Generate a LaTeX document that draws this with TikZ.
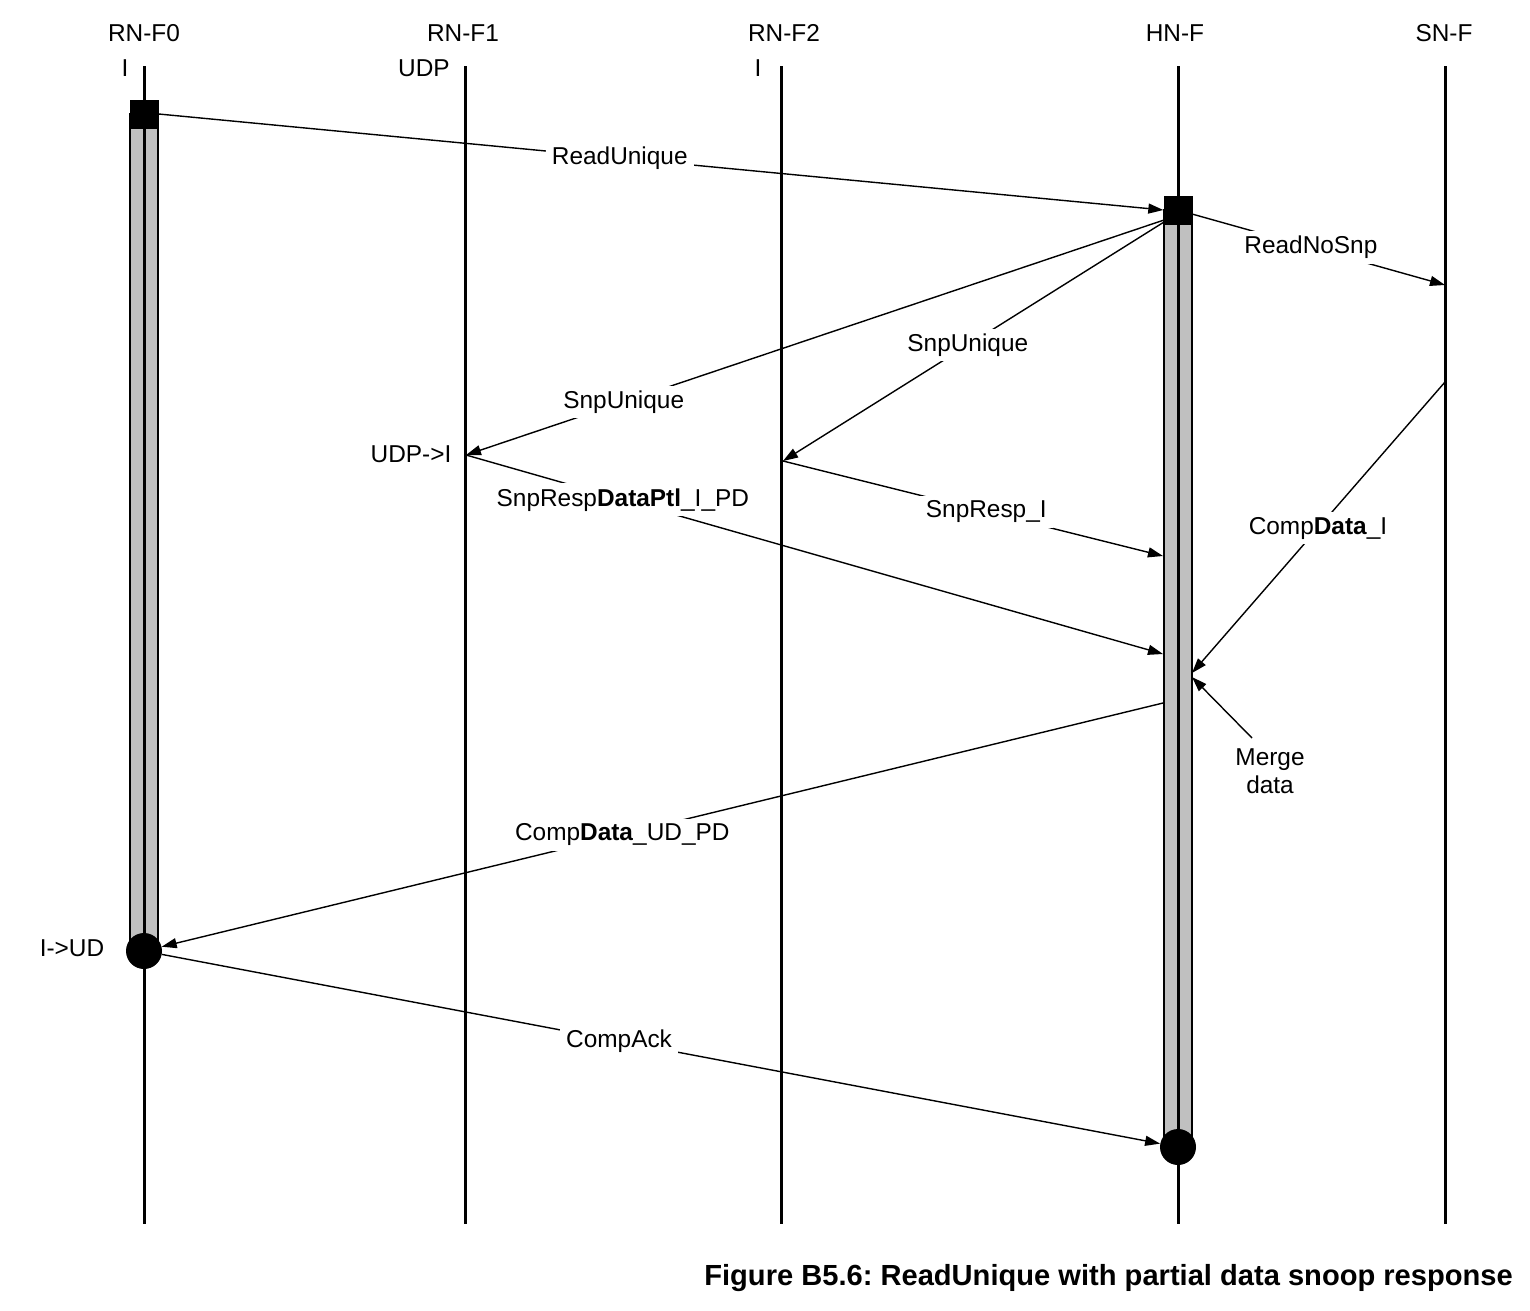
\documentclass[tikz,border=0pt]{standalone}
\usepackage{fontspec}
\setmainfont{Liberation Sans}
\usetikzlibrary{arrows.meta}
\definecolor{bargray}{HTML}{C0C0C0}
\frenchspacing
\begin{document}
\begin{tikzpicture}[x=1pt,y=-1pt,
  every node/.style={font=\fontsize{24.4}{28}\selectfont, inner sep=0pt},
  lifeline/.style={line width=3pt},
  bar/.style={fill=bargray, draw=black, line width=1.5pt},
  sq/.style={fill=black, minimum size=29pt, inner sep=0pt},
  dotnode/.style={circle, fill=black, minimum size=36pt, inner sep=0pt},
  msg/.style={line width=1.4pt, -{Triangle[length=15pt,width=10pt]}},
  lbl/.style={fill=white, inner xsep=6pt, inner ysep=5pt},
  ttl/.style={anchor=center}]
\useasboundingbox (0,0) rectangle (1530,1310);
% activation bars
\draw[bar] (130,114) rectangle (158,951);
\draw[bar] (1164,210) rectangle (1192,1147);
% lifelines
\coordinate (f0t) at (144,66);   \coordinate (f0b) at (144,1224);
\coordinate (f1t) at (465,66);   \coordinate (f1b) at (465,1224);
\coordinate (f2t) at (781,66);   \coordinate (f2b) at (781,1224);
\coordinate (ht) at (1178,66);   \coordinate (hb) at (1178,1224);
\coordinate (st) at (1445,66);   \coordinate (sb) at (1445,1224);
\draw[lifeline] (f0t) -- (f0b);
\draw[lifeline] (f1t) -- (f1b);
\draw[lifeline] (f2t) -- (f2b);
\draw[lifeline] (ht) -- (hb);
\draw[lifeline] (st) -- (sb);
% titles
\node[ttl] (t0) at (144,33) {RN-F0};
\node[ttl] (t1) at (463,33) {RN-F1};
\node[ttl] (t2) at (784,33) {RN-F2};
\node[ttl] (t3) at (1175,33) {HN-F};
\node[ttl] (t4) at (1444,33) {SN-F};
\node (s0) at (125,68) {I};
\node (s1) at (424,68) {UDP};
\node (s2) at (758,68) {I};
% markers
\node[sq] (f0sq) at (144,114) {};
\node[sq] (hsq) at (1178,210) {};
\node[dotnode] (f0dot) at (144,951) {};
\node[dotnode] (hdot) at (1178,1147) {};
% endpoints
\coordinate (hsnp1) at (1164,220);
\coordinate (hsnp2) at (1164,222);
\coordinate (hrns) at (1192,214);
\coordinate (snr) at (1445,285);
\coordinate (sns) at (1445,382);
\coordinate (f1p) at (466,455);
\coordinate (f2p) at (783,461);
\coordinate (hr1) at (1163,556);
\coordinate (hr2) at (1163,654);
\coordinate (hcd) at (1192,673);
\coordinate (hmg) at (1192,677);
\coordinate (mgs) at (1252,738);
\coordinate (hcu) at (1163,703);
% messages
\draw[msg] (f0sq.east) -- node[lbl,pos=0.459] (l1) {ReadUnique} (hsq.west);
\draw[msg] (hrns) -- node[lbl,pos=0.47] (l2) {ReadNoSnp} (snr);
\draw[msg] (hsnp1) -- node[lbl,pos=0.774] (l3) {SnpUnique} (f1p);
\draw[msg] (hsnp2) -- node[lbl,pos=0.515] (l4) {SnpUnique} (f2p);
\draw[msg] (f2p) -- node[lbl,pos=0.535] (l5) {SnpResp\_I} (hr1);
\draw[msg] (f1p) -- node[lbl,pos=0.225] (l6) {SnpResp\textbf{DataPtl}\_I\_PD} (hr2);
\draw[msg] (sns) -- node[lbl,pos=0.502] (l7) {Comp\textbf{Data}\_I} (hcd);
\draw[msg] (mgs) -- (hmg);
\draw[msg] (hcu) -- node[lbl,pos=0.54] (l9) {Comp\textbf{Data}\_UD\_PD} (f0dot);
\draw[msg] (f0dot) -- node[lbl,pos=0.458] (l10) {CompAck} (hdot);
% state labels
\node (c1) at (411,454) {UDP->I};
\node (c0) at (72,948) {I->UD};
\node[align=center] (mg) at (1270,771) {Merge\\data};
% caption
\node[anchor=east, font=\fontsize{29.1}{32}\selectfont\bfseries] (cap) at (1513,1278) {Figure B5.6: ReadUnique with partial data snoop response};
\end{tikzpicture}
\end{document}
